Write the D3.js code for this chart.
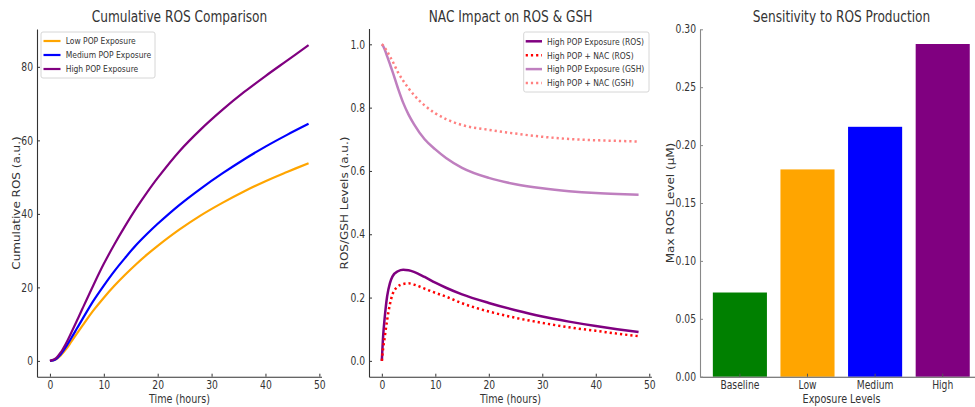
<!DOCTYPE html>
<html lang="en">
<head>
	<meta charset="UTF-8">
	<script src="https://cdn.jsdelivr.net/npm/d3@7"></script>
	<title>ROS panels</title>
	<style>
		body { margin: 0; background: #fff; }
		svg { display: block; font-family: "DejaVu Sans", sans-serif; }
	</style>
</head>
<body>
<svg id="chart" width="975" height="407"></svg>

<script type="text/javascript">
	// ---- data ----
	// panel 1: cumulative ROS
	var hours1 = [0, 1, 2, 3, 4, 5, 6, 8, 10, 12, 14, 16, 18, 20, 24, 28, 32, 36, 40, 44, 48]
	var lowPop = [0, 0.3, 1.5, 3.2, 5.3, 7.4, 9.5, 13.6, 17.2, 20.5, 23.5, 26.3, 28.9, 31.3, 35.7, 39.6, 43.0, 46.1, 48.9, 51.4, 53.8]
	var mediumPop = [0, 0.4, 1.8, 3.9, 6.3, 8.8, 11.3, 16.2, 20.5, 24.5, 28.1, 31.5, 34.5, 37.3, 42.4, 46.9, 51.0, 54.8, 58.3, 61.5, 64.5]
	var highPop = [0, 0.6, 2.3, 4.8, 7.8, 10.9, 14.1, 20.4, 26.4, 31.8, 36.8, 41.5, 45.8, 49.8, 57.0, 63.0, 68.3, 73.1, 77.5, 81.7, 85.9]
	var series1Names = ["Low POP Exposure", "Medium POP Exposure", "High POP Exposure"]

	// panel 2: NAC impact
	var hours2 = [0, 0.25, 0.5, 1, 1.5, 2, 3, 4, 5, 6, 8, 10, 12, 15, 20, 25, 30, 35, 40, 44, 48]
	var rosHigh = [0, 0.08, 0.13, 0.205, 0.245, 0.267, 0.283, 0.288, 0.286, 0.281, 0.265, 0.247, 0.231, 0.210, 0.183, 0.160, 0.140, 0.124, 0.110, 0.100, 0.091]
	var rosNac = [0, 0.04, 0.07, 0.13, 0.178, 0.21, 0.235, 0.243, 0.245, 0.241, 0.228, 0.215, 0.203, 0.182, 0.156, 0.136, 0.120, 0.106, 0.095, 0.086, 0.078]
	var gshHigh = [1, 0.994, 0.985, 0.962, 0.938, 0.914, 0.862, 0.815, 0.778, 0.748, 0.700, 0.668, 0.641, 0.610, 0.578, 0.558, 0.545, 0.536, 0.530, 0.527, 0.525]
	var gshNac = [1, 0.996, 0.99, 0.978, 0.962, 0.947, 0.912, 0.885, 0.861, 0.840, 0.807, 0.782, 0.764, 0.745, 0.730, 0.718, 0.708, 0.701, 0.697, 0.695, 0.693]
	var series2Names = ["High POP Exposure (ROS)", "High POP + NAC (ROS)", "High POP Exposure (GSH)", "High POP + NAC (GSH)"]

	// panel 3: max ROS
	var exposureLevels = ["Baseline", "Low", "Medium", "High"]
	var maxRos = [0.0727, 0.179, 0.2158, 0.2873]

	// tick labels
	var ticks1X = [0, 10, 20, 30, 40, 50]
	var ticks1Y = [0, 20, 40, 60, 80]
	var ticks2Y = [0, 0.2, 0.4, 0.6, 0.8, 1.0]
	var ticks3Y = [0, 0.05, 0.10, 0.15, 0.20, 0.25, 0.30]

	var svg = d3.select("#chart")
	var SX = 0.8 // the source picture is squeezed horizontally
	var ink = "#333"

	// text helper, squeezed like the original
	function label(g, x, y, str, size, anchor, rot) {
		return g.append("text")
			.attr("transform", "translate(" + x + "," + y + ") scale(" + SX + ",1)" + (rot ? " rotate(-90)" : ""))
			.attr("text-anchor", anchor || "middle")
			.attr("font-size", size)
			.attr("fill", ink)
			.text(str)
	}

	function styleAxis(g, left, color) {
		g.attr("font-family", null).attr("font-size", null)
		g.select(".domain").attr("stroke", color || ink).attr("stroke-width", 1.1)
		g.selectAll(".tick line").attr("stroke", color || ink)
		g.selectAll(".tick text")
			.attr("fill", ink)
			.attr("font-size", 11.5)
			.attr("transform", "scale(" + SX + ",1)")
		if (left) g.selectAll(".tick text").attr("x", -4 / SX)
	}

	var yTop = 29, yBottom = 376.7

	// ---------- panel 1 ----------
	var x1 = d3.scaleLinear().domain([-2.4, 50.4]).range([37, 321.5])
	var y1 = d3.scaleLinear().domain([-4.3, 90.3]).range([yBottom, yTop])
	var p1 = svg.append("g")

	p1.append("g").attr("transform", "translate(0," + yBottom + ")")
		.call(d3.axisBottom(x1).tickValues(ticks1X).tickSizeInner(-3).tickSizeOuter(0).tickPadding(4))
		.call(styleAxis)
	p1.append("g").attr("transform", "translate(37,0)")
		.call(d3.axisLeft(y1).tickValues(ticks1Y).tickSizeInner(-3).tickSizeOuter(0))
		.call(function(g) { styleAxis(g, true) })

	var colors1 = ["#FFA500", "#0000FF", "#800080"]
	var data1 = [lowPop, mediumPop, highPop]
	var line1 = d3.line().curve(d3.curveCatmullRom.alpha(0.5))
		.x(function(d) { return x1(d[0]) })
		.y(function(d) { return y1(d[1]) })
	data1.forEach(function(vals, i) {
		p1.append("path")
			.datum(hours1.map(function(t, j) { return [t, vals[j]] }))
			.attr("d", line1)
			.attr("fill", "none")
			.attr("stroke", colors1[i])
			.attr("stroke-width", 2.2)
	})

	label(p1, 179.5, 22, "Cumulative ROS Comparison", 15.2)
	label(p1, 179.5, 403, "Time (hours)", 12)
	label(p1, 19.5, 203, "Cumulative ROS (a.u.)", 12, "middle", true)

	// legend 1
	var lg1 = p1.append("g")
	lg1.append("rect").attr("x", 41).attr("y", 32).attr("width", 114).attr("height", 46)
		.attr("rx", 2).attr("fill", "#fff").attr("fill-opacity", 0.8).attr("stroke", "#d6d6d6")
	series1Names.forEach(function(n, i) {
		var yy = 41 + i * 14
		lg1.append("line").attr("x1", 43.5).attr("x2", 60.5).attr("y1", yy).attr("y2", yy)
			.attr("stroke", colors1[i]).attr("stroke-width", 2.2)
		label(lg1, 65.7, yy + 3.3, n, 9.5, "start")
	})

	// ---------- panel 2 ----------
	var x2 = d3.scaleLinear().domain([-2.4, 50.4]).range([369, 651.4])
	var y2 = d3.scaleLinear().domain([-0.05, 1.05]).range([yBottom, 28.5])
	var p2 = svg.append("g")

	p2.append("g").attr("transform", "translate(0," + yBottom + ")")
		.call(d3.axisBottom(x2).tickValues(ticks1X).tickSizeInner(-3).tickSizeOuter(0).tickPadding(4))
		.call(styleAxis)
	p2.append("g").attr("transform", "translate(369,0)")
		.call(d3.axisLeft(y2).tickValues(ticks2Y).tickFormat(d3.format(".1f")).tickSizeInner(-3).tickSizeOuter(0))
		.call(function(g) { styleAxis(g, true) })

	var styles2 = [
		{ c: "#800080", dash: null },
		{ c: "#FF0000", dash: "2.2,3" },
		{ c: "#BF7FBF", dash: null },
		{ c: "#FF8080", dash: "2.2,3" }
	]
	var data2 = [rosHigh, rosNac, gshHigh, gshNac]
	var line2 = d3.line().curve(d3.curveMonotoneX)
		.x(function(d) { return x2(d[0]) })
		.y(function(d) { return y2(d[1]) })
	data2.forEach(function(vals, i) {
		p2.append("path")
			.datum(hours2.map(function(t, j) { return [t, vals[j]] }))
			.attr("d", line2)
			.attr("fill", "none")
			.attr("stroke", styles2[i].c)
			.attr("stroke-width", 2.5)
			.attr("stroke-dasharray", styles2[i].dash)
	})

	label(p2, 510.5, 22, "NAC Impact on ROS & GSH", 15.2)
	label(p2, 510.5, 403, "Time (hours)", 12)
	label(p2, 348, 203, "ROS/GSH Levels (a.u.)", 12, "middle", true)

	var lg2 = p2.append("g")
	lg2.append("rect").attr("x", 523.7).attr("y", 32).attr("width", 125.3).attr("height", 60)
		.attr("rx", 2).attr("fill", "#fff").attr("fill-opacity", 0.8).attr("stroke", "#d6d6d6")
	series2Names.forEach(function(n, i) {
		var yy = 41.3 + i * 13.9
		lg2.append("line").attr("x1", 525.7).attr("x2", 542).attr("y1", yy).attr("y2", yy)
			.attr("stroke", styles2[i].c).attr("stroke-width", 2.5)
			.attr("stroke-dasharray", styles2[i].dash)
		label(lg2, 547, yy + 3.3, n, 9.5, "start")
	})

	// ---------- panel 3 ----------
	var x3 = d3.scaleBand().domain(exposureLevels).range([700, 982.6]).paddingInner(0.2).paddingOuter(0.19)
	var y3 = d3.scaleLinear().domain([0, 0.30]).range([yBottom, 29.3])
	var p3 = svg.append("g")
	var colors3 = ["#008000", "#FFA500", "#0000FF", "#800080"]

	p3.selectAll("rect.bar")
		.data(maxRos)
		.enter().append("rect")
		.attr("class", "bar")
		.attr("x", function(d, i) { return x3(exposureLevels[i]) })
		.attr("width", x3.bandwidth())
		.attr("y", function(d) { return y3(d) })
		.attr("height", function(d) { return y3(0) - y3(d) })
		.attr("fill", function(d, i) { return colors3[i] })

	p3.append("g").attr("transform", "translate(0," + yBottom + ")")
		.call(d3.axisBottom(x3).tickSizeInner(-3).tickSizeOuter(0).tickPadding(4))
		.call(function(g) { styleAxis(g, false, "#555") })
	p3.append("g").attr("transform", "translate(700,0)")
		.call(d3.axisLeft(y3).tickValues(ticks3Y).tickFormat(d3.format(".2f")).tickSizeInner(-3).tickSizeOuter(0))
		.call(function(g) { styleAxis(g, true, "#888") })

	label(p3, 841.5, 22, "Sensitivity to ROS Production", 15.2)
	label(p3, 841.5, 403, "Exposure Levels", 12)
	label(p3, 673.5, 203, "Max ROS Level (\u00b5M)", 12, "middle", true)
</script>
</body>
</html>
